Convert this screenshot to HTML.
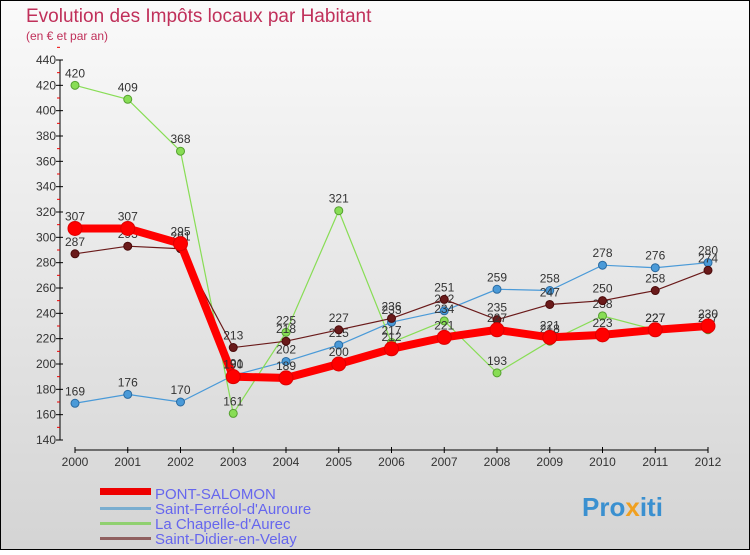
<!DOCTYPE html>
<html><head><meta charset="utf-8"><style>
body{margin:0;width:750px;height:550px;overflow:hidden;font-family:"Liberation Sans",sans-serif}
svg text{font-family:"Liberation Sans",sans-serif}
</style></head><body>
<svg id="c" width="750" height="550" xmlns="http://www.w3.org/2000/svg">
<defs><linearGradient id="bg" x1="0" y1="0" x2="0" y2="1"><stop offset="0" stop-color="#fafafa"/><stop offset="1" stop-color="#d4d4d4"/></linearGradient></defs>
<rect x="0.5" y="0.5" width="749" height="549" fill="url(#bg)" stroke="#000"/>
<text x="26" y="22" font-size="19" fill="#c0305a">Evolution des Impôts locaux par Habitant</text>
<text x="26" y="40" font-size="12" fill="#c0305a">(en € et par an)</text>
<g id="axes"></g><g id="series"></g>
<g>
<rect x="100" y="488" width="51" height="7" fill="#e00"/>
<text x="155" y="499" font-size="15" fill="#6666ee">PONT-SALOMON</text>
<rect x="100" y="507" width="51" height="3" fill="#7aaed0"/>
<text x="155" y="514" font-size="15" fill="#6666ee">Saint-Ferréol-d'Auroure</text>
<rect x="100" y="522" width="51" height="3" fill="#90d070"/>
<text x="155" y="529" font-size="15" fill="#6666ee">La Chapelle-d'Aurec</text>
<rect x="100" y="537" width="51" height="3" fill="#906060"/>
<text x="155" y="544" font-size="15" fill="#6666ee">Saint-Didier-en-Velay</text>
</g>
<text x="582" y="516" font-size="26" font-weight="bold" fill="#3a90d0">Pro<tspan fill="#f0a020">x</tspan>iti</text>
</svg>
<script>
const years=[2000,2001,2002,2003,2004,2005,2006,2007,2008,2009,2010,2011,2012];
const yTicks=[140,160,180,200,220,240,260,280,300,320,340,360,380,400,420,440];
const pontSalomon=[307,307,295,190,189,200,212,221,227,221,223,227,230];
const saintFerreol=[169,176,170,191,202,215,233,242,259,258,278,276,280];
const laChapelle=[420,409,368,161,225,321,217,234,193,218,238,227,227];
const saintDidier=[287,293,291,213,218,227,236,251,235,247,250,258,274];
const NS="http://www.w3.org/2000/svg";
function X(i){return 75+i*52.75;}
function Y(v){return 440-(v-140)*380/300;}
function mk(t,a,p){const e=document.createElementNS(NS,t);for(const k in a)e.setAttribute(k,a[k]);p.appendChild(e);return e;}
const ax=document.getElementById('axes');
let l=mk('line',{x1:60,y1:60,x2:60,y2:440,stroke:'#000'},ax);


yTicks.forEach(v=>{
 mk('line',{x1:56,y1:Y(v),x2:63,y2:Y(v),stroke:'#000'},ax);
 mk('line',{x1:57,y1:Y(v+10),x2:60,y2:Y(v+10),stroke:'#e00'},ax);
 const t=mk('text',{x:56,y:Y(v)+4,'font-size':12,'text-anchor':'end',fill:'#333'},ax);t.textContent=v;
 
 
});
l=mk('line',{x1:75,y1:450,x2:708,y2:450,stroke:'#000'},ax);


years.forEach((y,i)=>{
 mk('line',{x1:X(i),y1:447,x2:X(i),y2:453,stroke:'#000'},ax);
 const t=mk('text',{x:X(i),y:466,'font-size':12,'text-anchor':'middle',fill:'#333'},ax);t.textContent=y;
 
 
});
const sg=document.getElementById('series');
function draw(vals,color,dark,w,r,name){
 const g=mk('g',{},sg);
 
 
 const p=mk('polyline',{points:vals.map((v,i)=>X(i)+','+Y(v)).join(' '),fill:'none',stroke:color,'stroke-width':w},g);
 
 
 vals.forEach((v,i)=>{
  const c=mk('circle',{cx:X(i),cy:Y(v),r:r,fill:color,stroke:dark,'stroke-width':1},g);
  
  
  const t=mk('text',{x:X(i),y:Y(v)-8,'font-size':12,'text-anchor':'middle',fill:'#333'},g);t.textContent=v;
  
  
 });
}
draw(saintFerreol,'#4a9ad8','#2a6aa0',1.2,4,'saint-ferreol');
draw(laChapelle,'#88dd55','#55a030',1.2,4,'la-chapelle');
draw(saintDidier,'#6a1a1a','#4a0a0a',1.2,4,'saint-didier');
draw(pontSalomon,'#f00','#d00',8,7,'pont-salomon');
</script>
</body></html>
